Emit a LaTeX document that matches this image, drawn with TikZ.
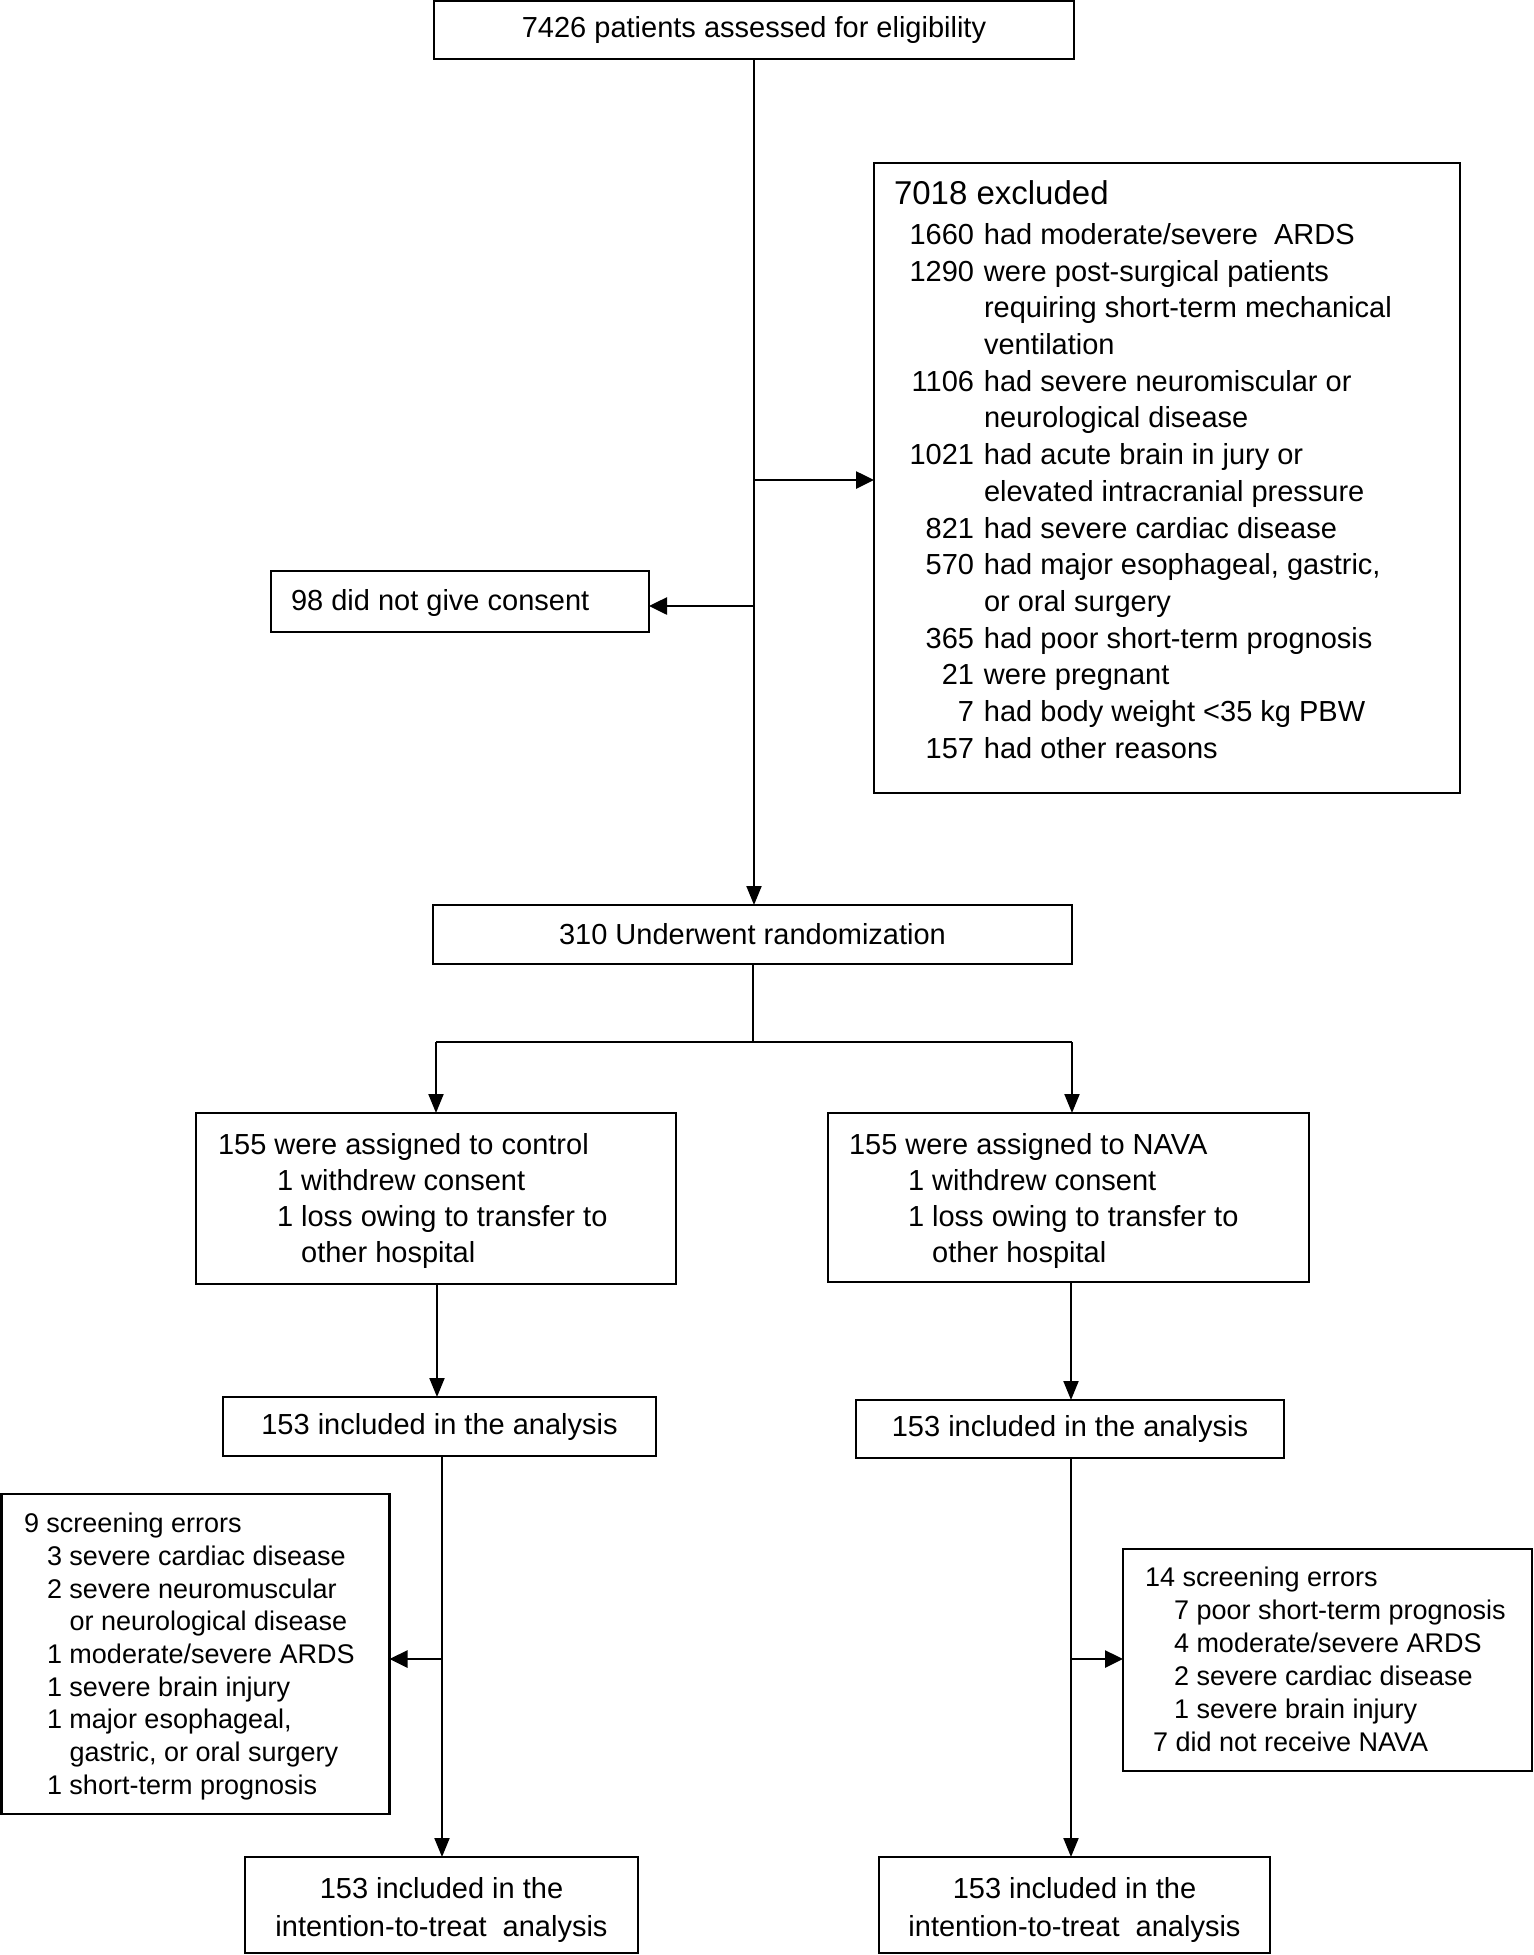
\documentclass[tikz,border=0pt]{standalone}
\usepackage{fontspec}
\setmainfont{Liberation Sans}
\usetikzlibrary{arrows.meta,calc}
\begin{document}
\begin{tikzpicture}[x=1pt,y=-1pt,
  boxst/.style={draw, line width=2.4pt, inner sep=0pt, outer sep=0pt, anchor=north west},
  txt/.style={inner sep=0pt, outer sep=0pt, font=\fontsize{29}{36}\selectfont},
  smalltxt/.style={inner sep=0pt, outer sep=0pt, font=\fontsize{27}{33}\selectfont},
  conn/.style={line width=2pt},
  arr/.style={line width=2pt, -{Triangle[length=19pt,width=15pt]}},
  harr/.style={line width=2.6pt, -{Triangle[length=18pt,width=17pt]}}]
\useasboundingbox (0,0) rectangle (1534,1955);
\fill[white] (0,0) rectangle (1534,1955);

% boxes
\node[boxst, minimum width=640pt, minimum height=58pt] (top) at (434,1) {};
\node[boxst, minimum width=586pt, minimum height=630pt] (excl) at (874,163) {};
\node[boxst, minimum width=378pt, minimum height=61pt] (consent) at (271,571) {};
\node[boxst, minimum width=639pt, minimum height=59pt] (rand) at (433,905) {};
\node[boxst, minimum width=480pt, minimum height=171pt] (ctrl) at (196,1113) {};
\node[boxst, minimum width=481pt, minimum height=169pt] (nava) at (828,1113) {};
\node[boxst, minimum width=433pt, minimum height=59pt] (anl) at (223,1397) {};
\node[boxst, minimum width=428pt, minimum height=58pt] (anr) at (856,1400) {};
\node[boxst, minimum width=388pt, minimum height=320pt] (scl) at (1.5,1494) {};
\node[boxst, minimum width=409pt, minimum height=222pt] (scr) at (1123,1549) {};
\node[boxst, minimum width=393pt, minimum height=96pt] (btl) at (245,1857) {};
\node[boxst, minimum width=391pt, minimum height=96pt] (btr) at (879,1857) {};

% texts
\node[txt] (toptxt) at (top.center) {7426 patients assessed for eligibility};
\node[txt] (randtxt) at (rand.center) {310 Underwent randomization};
\node[txt, anchor=west] (consenttxt) at (291,603) {98 did not give consent};
\node[txt, anchor=center] (anltxt) at (anl.center) {153 included in the analysis};
\node[txt, anchor=center] (anrtxt) at (anr.center) {153 included in the analysis};

\node[inner sep=0pt, outer sep=0pt, anchor=base west, font=\fontsize{33}{40}\selectfont] (extitle) at (894,204.8) {7018 excluded};
\node[inner sep=0pt, outer sep=0pt, anchor=base west, font=\fontsize{29}{36.71}\selectfont] (exlist) at (909.5,244.4) {%
\begin{tabular}[t]{@{}r@{\hspace{10pt}}l@{}}
1660 & had moderate/severe\ \ ARDS\\
1290 & were post-surgical patients\\
 & requiring short-term mechanical\\
 & ventilation\\
1106 & had severe neuromiscular or\\
 & neurological disease\\
1021 & had acute brain in jury or\\
 & elevated intracranial pressure\\
821 & had severe cardiac disease\\
570 & had major esophageal, gastric,\\
 & or oral surgery\\
365 & had poor short-term prognosis\\
21 & were pregnant\\
7 & had body weight <35 kg PBW\\
157 & had other reasons
\end{tabular}};

\node[txt, anchor=base west] (ctrltxt) at (218,1154.4) {%
\begin{tabular}[t]{@{}l@{}}
155 were assigned to control\\
\hspace*{59pt}1 withdrew consent\\
\hspace*{59pt}1 loss owing to transfer to\\
\hspace*{59pt}\phantom{1 }other hospital
\end{tabular}};

\node[txt, anchor=base west] (navatxt) at (849,1154.4) {%
\begin{tabular}[t]{@{}l@{}}
155 were assigned to NAVA\\
\hspace*{59pt}1 withdrew consent\\
\hspace*{59pt}1 loss owing to transfer to\\
\hspace*{59pt}\phantom{1 }other hospital
\end{tabular}};

\node[smalltxt, anchor=base west, font=\fontsize{27}{32.7}\selectfont] (scltxt) at (24,1532.7) {%
\begin{tabular}[t]{@{}l@{}}
9 screening errors\\
\hspace*{23pt}3 severe cardiac disease\\
\hspace*{23pt}2 severe neuromuscular\\
\hspace*{23pt}\phantom{2 }or neurological disease\\
\hspace*{23pt}1 moderate/severe ARDS\\
\hspace*{23pt}1 severe brain injury\\
\hspace*{23pt}1 major esophageal,\\
\hspace*{23pt}\phantom{1 }gastric, or oral surgery\\
\hspace*{23pt}1 short-term prognosis
\end{tabular}};

\node[smalltxt, anchor=base west] (scrtxt) at (1145,1586.7) {%
\begin{tabular}[t]{@{}l@{}}
14 screening errors\\
\hspace*{29pt}7 poor short-term prognosis\\
\hspace*{29pt}4 moderate/severe ARDS\\
\hspace*{29pt}2 severe cardiac disease\\
\hspace*{29pt}1 severe brain injury\\
\hspace*{8pt}7 did not receive NAVA
\end{tabular}};

\node[inner sep=0pt, outer sep=0pt, anchor=base, font=\fontsize{29}{38}\selectfont] (btltxt) at ($(btl.north)+(0,41.4)$) {%
\begin{tabular}[t]{@{}c@{}}
153 included in the\\
intention-to-treat\ \ analysis
\end{tabular}};
\node[inner sep=0pt, outer sep=0pt, anchor=base, font=\fontsize{29}{38}\selectfont] (btrtxt) at ($(btr.north)+(0,41.4)$) {%
\begin{tabular}[t]{@{}c@{}}
153 included in the\\
intention-to-treat\ \ analysis
\end{tabular}};

% connectors
\coordinate (j1) at (753,480);
\coordinate (j2) at (753,606);
\draw[arr] (top.south) -- (top.south |- rand.north);
\draw[harr] (j1) -- (j1 -| excl.west);
\draw[harr] (j2) -- (j2 -| consent.east);

\coordinate (bm) at (753,1042);
\coordinate (bl) at (436,1042);
\coordinate (bra) at (1072,1042);
\draw[conn] (rand.south) -- (rand.south |- bm);
\draw[conn] (bl) -- (bra);
\draw[arr] (bl) -- (bl |- ctrl.north);
\draw[arr] (bra) -- (bra |- nava.north);

\coordinate (cl) at (437,1284);
\coordinate (cr) at (1071,1282);
\draw[arr] (cl) -- (cl |- anl.north);
\draw[arr] (cr) -- (cr |- anr.north);

\coordinate (dl) at (442,1456);
\coordinate (dr) at (1071,1458);
\draw[arr] (dl) -- (dl |- btl.north);
\draw[arr] (dr) -- (dr |- btr.north);

\coordinate (j3) at (442,1659);
\coordinate (j4) at (1071,1659);
\draw[harr] (j3) -- (j3 -| scl.east);
\draw[harr] (j4) -- (j4 -| scr.west);
\end{tikzpicture}
\end{document}
